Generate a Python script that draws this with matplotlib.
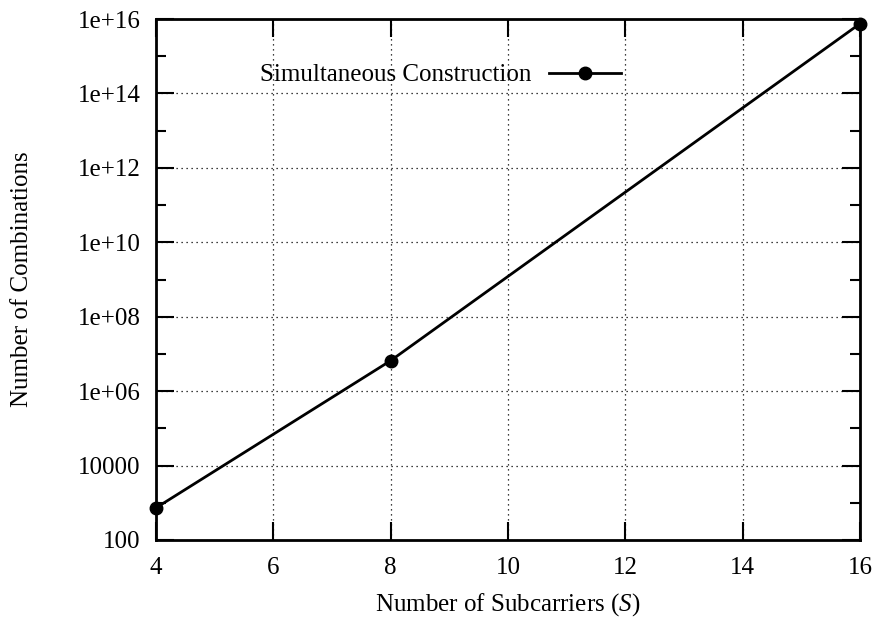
import numpy as np
import matplotlib.pyplot as plt
from matplotlib.ticker import FixedLocator, FuncFormatter

plt.rcParams['font.family'] = ['Liberation Serif', 'DejaVu Serif']
plt.rcParams['mathtext.fontset'] = 'custom'
plt.rcParams['mathtext.it'] = 'Liberation Serif:italic'
plt.rcParams['mathtext.rm'] = 'Liberation Serif'

# subcarriers vs. number of combinations
subcarriers = [4, 8, 16]
combinations = [730, 6.6e6, 7.5e15]
series_label = 'Simultaneous Construction'

x_ticks = [4, 6, 8, 10, 12, 14, 16]
y_major = [1e2, 1e4, 1e6, 1e8, 1e10, 1e12, 1e14, 1e16]
y_minor = [1e3, 1e5, 1e7, 1e9, 1e11, 1e13, 1e15]


def gnu_fmt(v, pos):
    e = int(round(np.log10(v)))
    if e <= 4:
        return '%d' % round(v)
    return '1e+%02d' % e


fs = 18

fig = plt.figure(figsize=(8.79, 6.22), dpi=100)
ax = fig.add_axes([156 / 879, 1 - 540 / 622, (860 - 156) / 879, (540 - 19) / 622])

ax.plot(subcarriers, combinations, color='black', lw=2, marker='o', ms=9,
        label=series_label, clip_on=False, zorder=5)

ax.set_yscale('log')
ax.set_xlim(4, 16)
ax.set_ylim(1e2, 1e16)

ax.xaxis.set_major_locator(FixedLocator(x_ticks))
ax.yaxis.set_major_locator(FixedLocator(y_major))
ax.yaxis.set_minor_locator(FixedLocator(y_minor))
ax.yaxis.set_major_formatter(FuncFormatter(gnu_fmt))
ax.yaxis.set_minor_formatter(FuncFormatter(lambda v, p: ''))

ax.tick_params(which='both', direction='in', top=True, right=True,
               labelsize=fs, width=1.5, color='black')
ax.tick_params(which='major', length=13)
ax.tick_params(which='minor', length=7)
ax.tick_params(axis='x', which='major', pad=12)
ax.tick_params(axis='y', which='major', pad=11)
for s in ax.spines.values():
    s.set_linewidth(2)

ax.grid(True, which='major', color='black', ls=(0, (1, 3)), lw=0.9)

ax.set_xlabel('Number of Subcarriers ($S$)', fontsize=fs, labelpad=9)
ax.set_ylabel('Number of Combinations', fontsize=fs, labelpad=32)

ax.legend(loc='upper left', bbox_to_anchor=(0.116, 0.957), frameon=False,
          fontsize=fs, markerfirst=False, handlelength=2.9, handletextpad=0.68)

fig.savefig('out.png', dpi=100)
